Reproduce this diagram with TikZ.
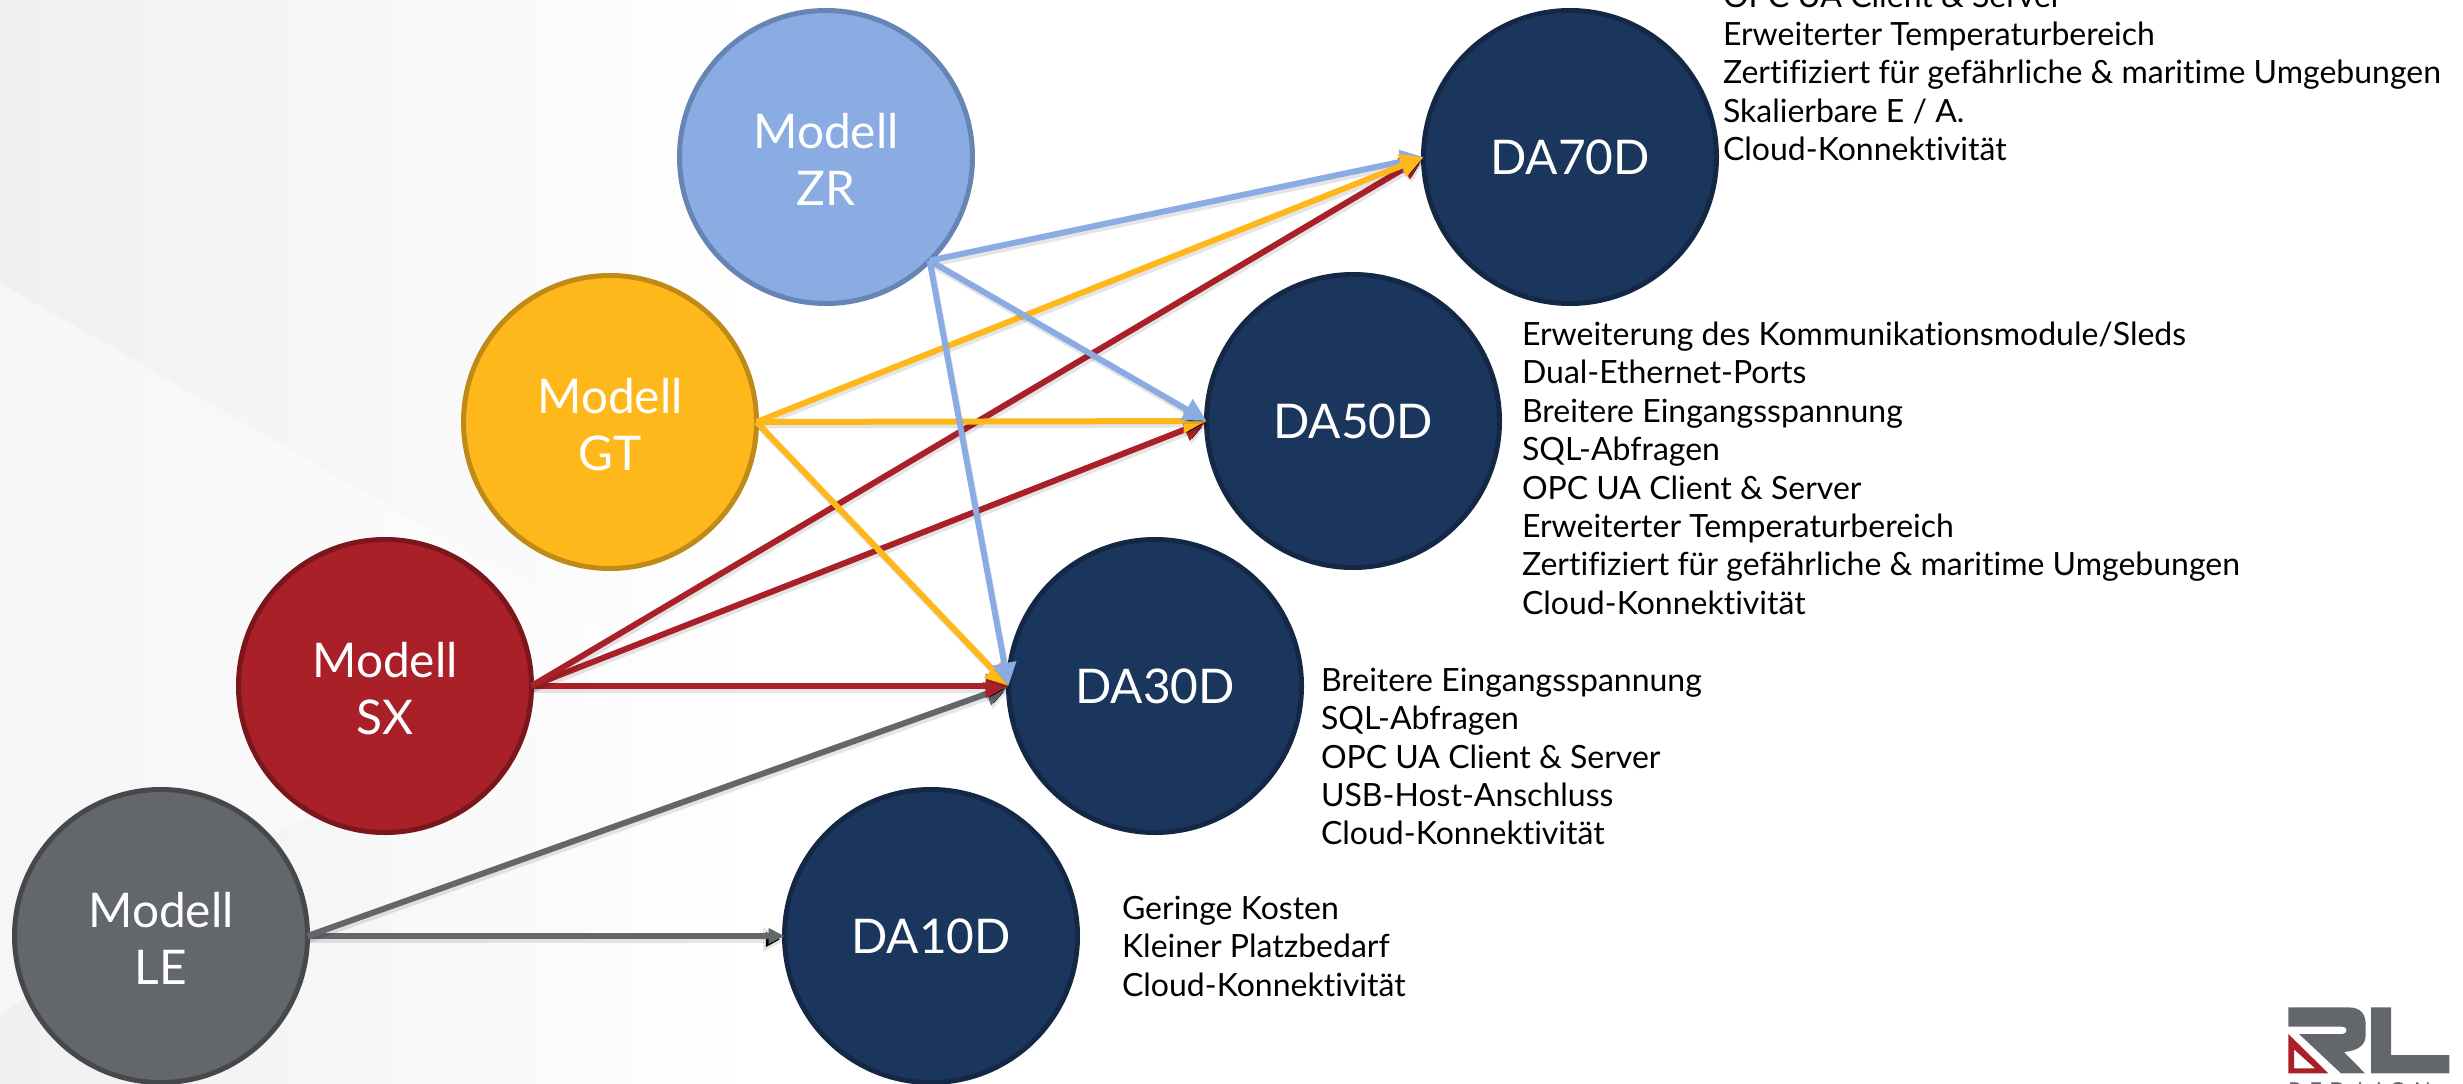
\documentclass[tikz,border=0pt]{standalone}
\usepackage{fontspec}
\setmainfont{Lato}[Ligatures=NoCommon]
\usepackage{tikz}
\usetikzlibrary{arrows.meta,calc,positioning}
\definecolor{zrblue}{HTML}{8AACE3}
\definecolor{zrline}{HTML}{6684B4}
\definecolor{gtyellow}{HTML}{FFB81C}
\definecolor{gtline}{HTML}{BF8A15}
\definecolor{sxred}{HTML}{A92028}
\definecolor{sxline}{HTML}{7A161C}
\definecolor{legray}{HTML}{63666A}
\definecolor{leline}{HTML}{46484C}
\definecolor{danavy}{HTML}{1B365D}
\definecolor{daline}{HTML}{142846}
\newcommand{\modelltext}[1]{\rule{0pt}{40pt}Modell\\#1}
\tikzset{
	ball/.style={circle,minimum size=293pt,inner sep=0pt,outer sep=0pt,line width=5pt,
		align=center,text=white,font=\fontsize{47.8}{57}\selectfont},
	danode/.style={ball,draw=daline,fill=danavy},
	features/.style={anchor=north west,inner sep=0pt,outer sep=0pt,align=left,text=black,
		font=\fontsize{32}{38.4}\selectfont},
	feed/.style={line width=6pt,draw=#1,-{Triangle[length=23pt,width=23pt]},
		preaction={draw=black,draw opacity=.1,line width=6pt,-{Triangle[length=23pt,width=23pt]},
			transform canvas={xshift=1.5pt,yshift=-3.5pt}}}
}
\begin{document}
\begin{tikzpicture}[x=1pt,y=-1pt]
	\useasboundingbox (0,0) rectangle (2463,1084);
	% background
	\fill[left color=black!6,right color=white] (0,0) rectangle (760,1084);
	\fill[white,opacity=.45] (0,283) -- (760,720) -- (760,640) -- (280,830) -- (0,1015) -- cycle;

	\node[ball,draw=zrline,fill=zrblue] (zr) at (826,157) {\modelltext{ZR}};
	\node[ball,draw=gtline,fill=gtyellow] (gt) at (610,422) {\modelltext{GT}};
	\node[ball,draw=sxline,fill=sxred] (sx) at (385,686) {\modelltext{SX}};
	\node[ball,draw=leline,fill=legray] (le) at (161,936) {\modelltext{LE}};

	\node[danode] (da70) at (1570,157) {DA70D};
	\node[danode] (da50) at (1353,421) {DA50D};
	\node[danode] (da30) at (1155,686) {DA30D};
	\node[danode] (da10) at (931,936) {DA10D};

	\node[features] (list70) at (1723,-16.5) {OPC UA Client \& Server\\Erweiterter Temperaturbereich\\Zertifiziert für gefährliche \& maritime Umgebungen\\Skalierbare E / A.\\Cloud-Konnektivität};
	\node[features] (list50) at (1522,322) {Erweiterung des Kommunikationsmodule/Sleds\\Dual-Ethernet-Ports\\Breitere Eingangsspannung\\SQL-Abfragen\\OPC UA Client \& Server\\Erweiterter Temperaturbereich\\Zertifiziert für gefährliche \& maritime Umgebungen\\Cloud-Konnektivität};
	\node[features] (list30) at (1321,668) {Breitere Eingangsspannung\\SQL-Abfragen\\OPC UA Client \& Server\\USB-Host-Anschluss\\Cloud-Konnektivität};
	\node[features] (list10) at (1122,896) {Geringe Kosten\\Kleiner Platzbedarf\\Cloud-Konnektivität};

	% connectors
	\draw[feed=legray,-{Triangle[length=16pt,width=15pt]}] (le.east) -- (da10.west);
	\draw[feed=legray] (le.east) -- (da30.west);
	\draw[feed=sxred] (sx.east) -- (da30.west);
	\draw[feed=sxred] (sx.east) -- (da50.west);
	\draw[feed=sxred] (sx.east) -- (da70.west);
	\draw[feed=zrblue] (zr.south east) -- (da70.west);
	\draw[feed=gtyellow] (gt.east) -- (da70.west);
	\draw[feed=gtyellow] (gt.east) -- (da50.west);
	\draw[feed=gtyellow] (gt.east) -- (da30.west);
	\draw[feed=zrblue] (zr.south east) -- (da50.west);
	\draw[feed=zrblue] (zr.south east) -- (da30.west);

	% logo
	\begin{scope}[shift={(2200,960)},x=.3333pt,y=-.3333pt]
		\fill[legray] (265,142) -- (445,142) .. controls (485,142) and (497,165) .. (497,195)
			-- (497,225) .. controls (497,255) and (475,272) .. (432,276) -- (495,340) -- (423,340)
			-- (297,222) -- (425,222) .. controls (445,222) and (445,200) .. (425,200) -- (265,200) -- cycle;
		\fill[legray] (513,142) -- (573,142) -- (573,285) -- (748,285) -- (748,340) -- (513,340) -- cycle;
		\fill[sxred,even odd rule] (265,222) -- (385,340) -- (265,340) -- cycle (282,268) -- (345,325) -- (282,325) -- cycle;
	\end{scope}
	\node[anchor=base west,inner sep=0pt,text=legray,font=\fontsize{22}{22}\selectfont] (logotext) at (2288,1098) {R\,\,E\,\,D\,\,\,L\,\,I\,\,O\,\,N};
\end{tikzpicture}
\end{document}
